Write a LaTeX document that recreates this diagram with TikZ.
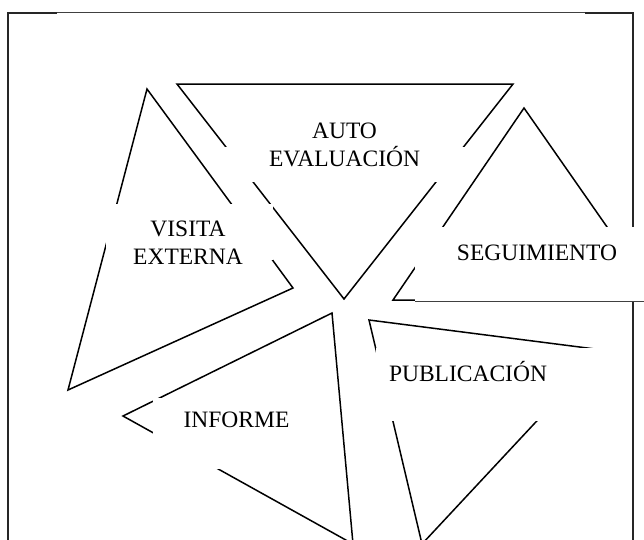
\documentclass[tikz,border=0pt]{standalone}
\usepackage{fontspec}
\setmainfont{Liberation Serif}

\newcommand{\Tri}[3]{% corner, corner, corner
  \draw[edge] #1 -- #2 -- #3 -- cycle;
}
\newcommand{\Mask}[4]{% x, y, w, h
  \fill[white] (#1,#2) rectangle ++ (#3,#4);
}

\tikzset{
  edge/.style={line width=1.5pt, line join=miter},
  frame/.style={line width=2pt, black!85},
  rule/.style={line width=0.8pt, black!75},
  label/.style={inner sep=0pt, align=center, font=\fontsize{23.5}{28}\selectfont}
}

\begin{document}
\begin{tikzpicture}[x=1pt, y=-1pt]
  \useasboundingbox (0,0) rectangle (644,539);
  \clip (0,0) rectangle (644,539);
  \pgfmathsetmacro{\FrameTop}{12.5};
  \pgfmathsetmacro{\FrameLeft}{8};
  \pgfmathsetmacro{\FrameRight}{633};
  %
  \draw[frame] (57,\FrameTop) -| (\FrameLeft,560);
  \draw[frame] (585,\FrameTop) -| (\FrameRight,560);
  \draw[rule] (57,\FrameTop) -- (585,\FrameTop);
  %
  \Tri{(177,84)}{(513,84)}{(344,299)}   % auto evaluacion
  \Tri{(524,108)}{(393,300)}{(658,300)} % seguimiento
  \Tri{(147,89)}{(293,288)}{(68,390)}   % visita externa
  \Tri{(123,416)}{(332,313)}{(353,544)} % informe
  \Tri{(369,320)}{(603,350)}{(422,544)} % publicacion
  %
  \Mask{220}{147}{248}{35}
  \Mask{106}{204}{167}{56}
  \Mask{415}{227}{235}{74}
  \Mask{153}{398}{147}{71}
  \Mask{376}{348}{234}{73}
  \draw[rule] (415,301) -- (644,301);
  %
  \node[label] (auto) at (344.5,145) {AUTO\\EVALUACIÓN};
  \node[label] (visita) at (188,242.5) {VISITA\\EXTERNA};
  \node[label] (seguimiento) at (537,252.5) {SEGUIMIENTO};
  \node[label] (publicacion) at (468,371.5) {PUBLICACIÓN};
  \node[label] (informe) at (236.5,420) {INFORME};
\end{tikzpicture}
\end{document}
